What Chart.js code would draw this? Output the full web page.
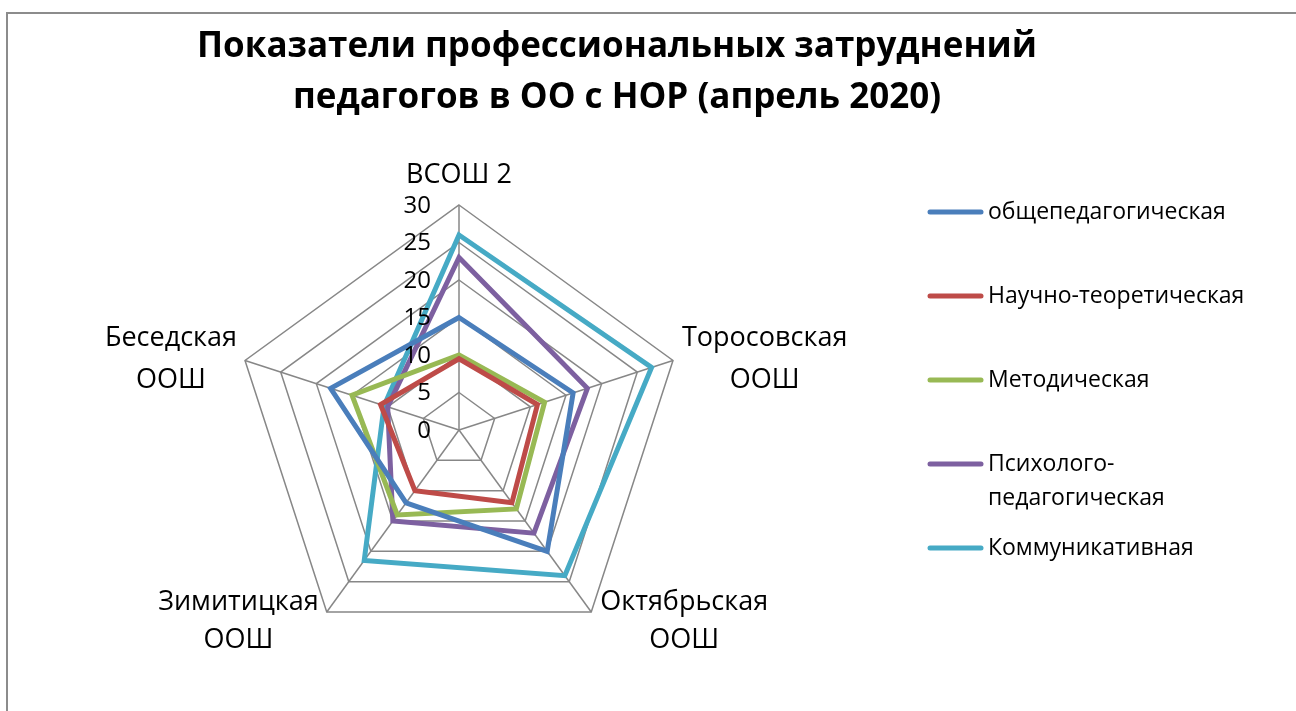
<!DOCTYPE html>
<html lang="ru">
<head>
<meta charset="utf-8">
<script src="https://cdn.jsdelivr.net/npm/chart.js@4.4.0/dist/chart.umd.min.js"></script>
<style>
  html, body { margin: 0; padding: 0; background: #fff; overflow: hidden; }
  #wrap { position: relative; width: 1296px; height: 711px; }
  #frame { position: absolute; left: 6px; top: 12px; width: 1400px; height: 800px; border: 2px solid #8c8c8c; box-sizing: border-box; }
  #radar { position: absolute; left: 0; top: 0; }
</style>
</head>
<body>
<div id="wrap">
  <div id="frame"></div>
  <canvas id="radar" width="1296" height="711"></canvas>
</div>
<script>
// данные диаграммы
const titleLines = ['Показатели профессиональных затруднений', 'педагогов в ОО с НОР (апрель 2020)'];
const schools = [['ВСОШ 2'], ['Торосовская', 'ООШ'], ['Октябрьская', 'ООШ'], ['Зимитицкая', 'ООШ'], ['Беседская', 'ООШ']];
const seriesNames = [['общепедагогическая'], ['Научно-теоретическая'], ['Методическая'], ['Психолого-', 'педагогическая'], ['Коммуникативная']];
const obshchepedagogicheskaya = [15, 16, 20, 12, 18];
const nauchnoTeoreticheskaya = [9.5, 11, 12, 10, 11];
const metodicheskaya = [10, 12, 13, 14, 15];
const psikhologoPedagogicheskaya = [23, 18, 17, 15, 10];
const kommunikativnaya = [26, 27, 24, 21.5, 10.5];
const tickLabels = ['0', '5', '10', '15', '20', '25', '30'];
const colors = ['#4a7ebb', '#be4b48', '#98b954', '#7d60a0', '#46aac5'];

const FONT = '"Open Sans", "Noto Sans", sans-serif';

// подписи, заголовок и легенда в стиле Excel
const excelDecor = {
  id: 'excelDecor',
  afterDraw(chart) {
    const ctx = chart.ctx;
    const scale = chart.scales.r;
    ctx.save();
    ctx.fillStyle = '#000';

    // заголовок
    ctx.font = 'bold 35px ' + FONT;
    ctx.textAlign = 'center';
    ctx.textBaseline = 'middle';
    ctx.fillText(titleLines[0], 617, 47);
    ctx.fillText(titleLines[1], 617, 98);

    // значения шкалы
    ctx.font = '24px ' + FONT;
    ctx.textAlign = 'right';
    tickLabels.forEach(function (t) {
      const p = scale.getPointPositionForValue(0, Number(t));
      ctx.fillText(t, p.x - 28, p.y + 1);
    });

    // подписи осей
    ctx.font = '27px ' + FONT;
    ctx.textAlign = 'center';
    schools.forEach(function (lines, i) {
      const p = scale.getPointPositionForValue(i, scale.max);
      const a = scale.getIndexAngle(i);
      const s = Math.sin(a), c = Math.cos(a);
      const w = Math.max.apply(null, lines.map(function (l) { return ctx.measureText(l).width; }));
      let x, y0;
      const lh = 41;
      if (Math.abs(s) < 0.1) {
        x = p.x;
        y0 = p.y - 30 - (lines.length - 1) * lh;
      } else {
        x = s > 0 ? p.x + 9 + w / 2 : p.x - 8 - w / 2;
        y0 = c > 0 ? p.y - 22 : p.y - 10;
      }
      lines.forEach(function (l, k) { ctx.fillText(l, x, y0 + k * (c > 0 ? 42 : 38)); });
    });

    // легенда
    ctx.font = '23px ' + FONT;
    ctx.textAlign = 'left';
    ctx.lineCap = 'round';
    ctx.lineWidth = 5;
    chart.data.datasets.forEach(function (ds, i) {
      const y = 212 + i * 84;
      ctx.strokeStyle = ds.borderColor;
      ctx.beginPath();
      ctx.moveTo(930, y);
      ctx.lineTo(981, y);
      ctx.stroke();
      seriesNames[i].forEach(function (l, k) { ctx.fillText(l, 988, y + k * 34); });
    });
    ctx.restore();
  }
};

function radarChart() {
  const canvas = document.getElementById('radar');
  const values = [obshchepedagogicheskaya, nauchnoTeoreticheskaya, metodicheskaya, psikhologoPedagogicheskaya, kommunikativnaya];

  new Chart(canvas, {
    type: 'radar',
    data: {
      labels: schools,
      datasets: values.map(function (v, i) {
        return {
          label: seriesNames[i].join(''),
          data: v,
          borderColor: colors[i],
          backgroundColor: colors[i],
          borderWidth: 5,
          borderJoinStyle: 'miter',
          pointRadius: 0,
          fill: false
        };
      })
    },
    options: {
      responsive: false,
      animation: false,
      devicePixelRatio: 1,
      layout: { padding: { left: 234, top: 205, right: 612, bottom: 56 } },
      plugins: { legend: { display: false }, title: { display: false }, tooltip: { enabled: false } },
      scales: {
        r: {
          min: 0,
          max: 30,
          ticks: { stepSize: 5, display: false },
          grid: { color: '#878787', lineWidth: 1.5 },
          angleLines: { color: '#878787', lineWidth: 1.5 },
          pointLabels: { display: false }
        }
      }
    },
    plugins: [excelDecor]
  });
}

window.addEventListener('load', radarChart);
</script>
</body>
</html>
